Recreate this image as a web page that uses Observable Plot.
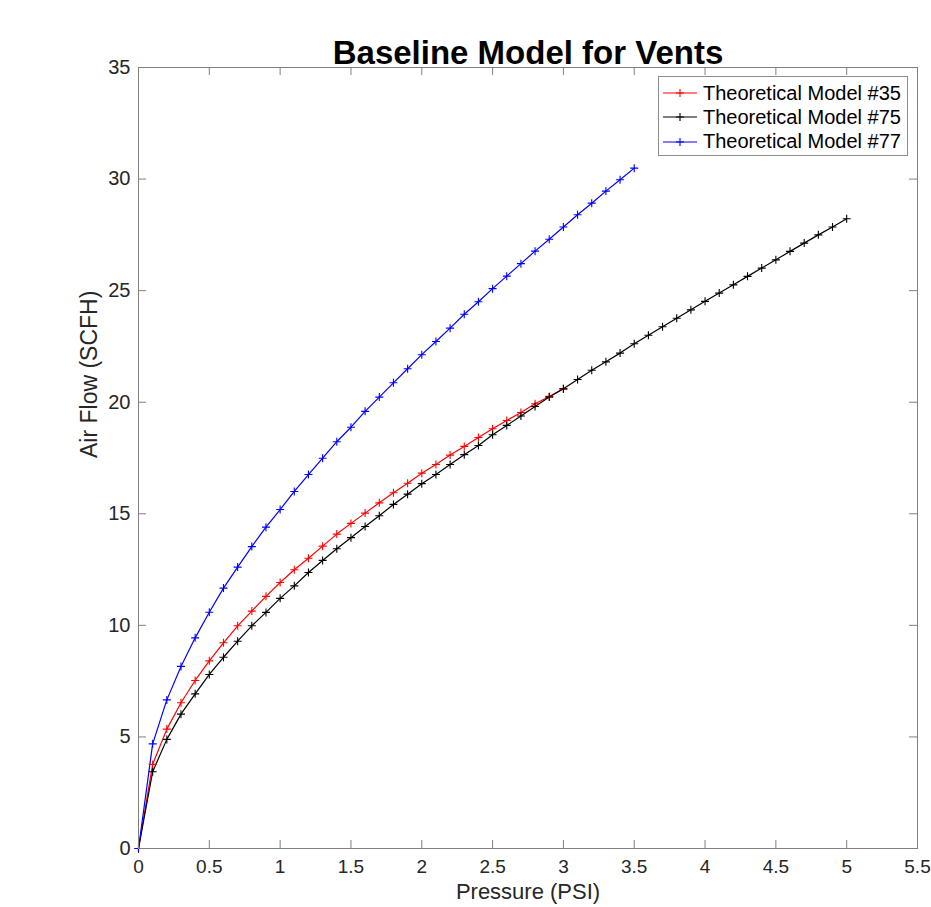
<!DOCTYPE html>
<html><head><meta charset="utf-8">
<script src="https://cdn.jsdelivr.net/npm/d3@7"></script>
<script src="https://cdn.jsdelivr.net/npm/@observablehq/plot@0.6"></script>
<style>
body{margin:0;background:#fff;font-family:"Liberation Sans",Arial,Helvetica,sans-serif;}
#wrap{position:relative;width:931px;height:907px;}
#legend{position:absolute;left:658px;top:76px;width:250px;height:80px;border:1px solid #8c8c8c;background:#fff;box-sizing:border-box;}
.row{position:absolute;left:0;height:24px;display:flex;align-items:center;}
.row span{font-size:20px;color:#000;margin-left:4px;white-space:nowrap;}
</style></head><body><div id="wrap"></div><script>
const pressure = [0,0.1,0.2,0.3,0.4,0.5,0.6,0.7,0.8,0.9,1.0,1.1,1.2,1.3,1.4,1.5,1.6,1.7,1.8,1.9,2.0,2.1,2.2,2.3,2.4,2.5,2.6,2.7,2.8,2.9,3.0,3.1,3.2,3.3,3.4,3.5,3.6,3.7,3.8,3.9,4.0,4.1,4.2,4.3,4.4,4.5,4.6,4.7,4.8,4.9,5.0];
const flow35 = [0,3.77,5.35,6.53,7.53,8.41,9.22,9.98,10.64,11.30,11.92,12.49,13.01,13.55,14.09,14.57,15.03,15.49,15.94,16.37,16.82,17.21,17.63,18.02,18.42,18.81,19.18,19.54,19.93,20.26,20.60];
const flow75 = [0,3.44,4.89,6.02,6.93,7.80,8.57,9.29,9.98,10.58,11.21,11.77,12.37,12.91,13.43,13.93,14.43,14.91,15.42,15.88,16.35,16.76,17.21,17.65,18.06,18.54,18.96,19.38,19.81,20.23,20.60,21.02,21.43,21.81,22.20,22.62,23.00,23.38,23.76,24.14,24.52,24.89,25.26,25.64,26.01,26.38,26.76,27.13,27.50,27.85,28.22];
const flow77 = [0,4.69,6.66,8.16,9.44,10.59,11.67,12.61,13.53,14.40,15.19,16.00,16.76,17.49,18.23,18.88,19.59,20.23,20.87,21.50,22.13,22.72,23.32,23.94,24.50,25.09,25.65,26.21,26.77,27.30,27.85,28.40,28.92,29.46,29.97,30.49];
const seriesNames = ["Theoretical Model #35","Theoretical Model #75","Theoretical Model #77"];
const seriesColors = ["#ff0000","#000000","#0000ff"];
const xTicks = [0,0.5,1,1.5,2,2.5,3,3.5,4,4.5,5,5.5];
const yTicks = [0,5,10,15,20,25,30,35];
const titleText = "Baseline Model for Vents";
const xLabel = "Pressure (PSI)";
const yLabel = "Air Flow (SCFH)";

const flows = [flow35, flow75, flow77];
const rows = flows.flatMap((f, s) => f.map((v, i) => ({series: seriesNames[s], p: pressure[i], f: v})));

const plusSymbol = {draw(ctx, size){ const r = Math.sqrt(size/Math.PI); ctx.moveTo(-r,0); ctx.lineTo(r,0); ctx.moveTo(0,-r); ctx.lineTo(0,r);} };

const W = 931, H = 907, mL = 138, mR = 14, mT = 67, mB = 59;
const iW = W - mL - mR, iH = H - mT - mB, tk = 8;
const axisColor = "#808080";

const chart = Plot.plot({
  width: W, height: H, marginLeft: mL, marginRight: mR, marginTop: mT, marginBottom: mB,
  style: {fontFamily: "Liberation Sans, Arial, Helvetica, sans-serif", background: "white", color: "#262626"},
  x: {domain: [0, 5.5]},
  y: {domain: [0, 35]},
  color: {domain: seriesNames, range: seriesColors},
  marks: [
    Plot.ruleX(xTicks, {stroke: axisColor, insetTop: iH - tk}),
    Plot.ruleX(xTicks, {stroke: axisColor, insetBottom: iH - tk}),
    Plot.ruleY(yTicks, {stroke: axisColor, insetRight: iW - tk}),
    Plot.ruleY(yTicks, {stroke: axisColor, insetLeft: iW - tk}),
    Plot.axisX({ticks: xTicks, tickSize: 0, tickPadding: 11, fontSize: 19, label: null, fill: "#262626", tickFormat: d => String(d)}),
    Plot.axisY({ticks: yTicks, tickSize: 0, tickPadding: 8, fontSize: 20, label: null, fill: "#262626", tickFormat: d => String(d)}),
    Plot.line(rows, {x: "p", y: "f", z: "series", stroke: "series", strokeWidth: 1.2}),
    Plot.dot(rows, {x: "p", y: "f", stroke: "series", symbol: plusSymbol, r: 4, strokeWidth: 1.1, fill: "none"}),
    Plot.frame({stroke: axisColor}),
    Plot.text([titleText], {frameAnchor: "top", dy: -27, fontSize: 33, fontWeight: "bold", fill: "#000"}),
    Plot.text([xLabel], {frameAnchor: "bottom", dy: 50, fontSize: 22, fill: "#262626"}),
    Plot.text([yLabel], {frameAnchor: "left", dx: -49, rotate: -90, fontSize: 23, fill: "#262626"})
  ]
});
const wrap = document.getElementById("wrap");
wrap.appendChild(chart);

const legend = document.createElement("div");
legend.id = "legend";
wrap.appendChild(legend);
seriesNames.forEach((name, i) => {
  const row = document.createElement("div");
  row.className = "row";
  row.style.top = (4 + i * 24.4) + "px";
  const svg = d3.create("svg").attr("width", 40).attr("height", 24);
  svg.append("line").attr("x1", 4).attr("x2", 38).attr("y1", 12).attr("y2", 12).attr("stroke", seriesColors[i]).attr("stroke-width", 1.2);
  svg.append("path").attr("d", "M17,12H25M21,8V16").attr("stroke", seriesColors[i]).attr("stroke-width", 1.1);
  row.appendChild(svg.node());
  const sp = document.createElement("span");
  sp.textContent = name;
  row.appendChild(sp);
  legend.appendChild(row);
});
</script></body></html>
